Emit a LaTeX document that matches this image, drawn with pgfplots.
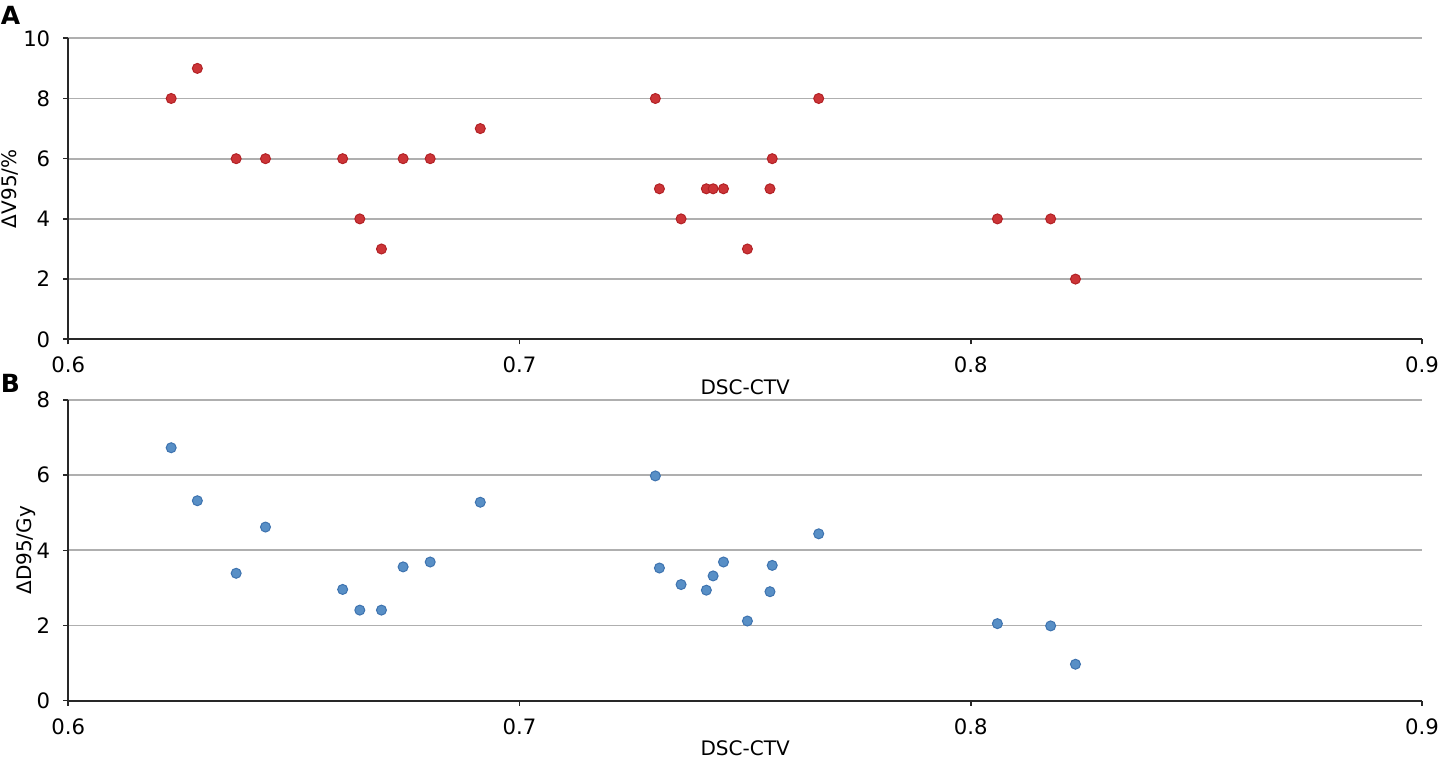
\documentclass[border=0pt]{standalone}
\usepackage{pgfplots}
\pgfplotsset{compat=1.18}
\usepackage{pgfplotstable}
\usepackage{fontspec}
\setmainfont{DejaVu Sans}
\definecolor{redfill}{RGB}{204,52,55}
\definecolor{rededge}{RGB}{178,34,38}
\definecolor{bluefill}{RGB}{88,143,198}
\definecolor{blueedge}{RGB}{62,115,175}
\definecolor{axcol}{RGB}{40,40,40}
\definecolor{gridcol}{RGB}{175,175,175}

\pgfplotstableread{
x      dv  dd
0.6228 8   6.73
0.6286 9   5.32
0.6372 6   3.39
0.6437 6   4.62
0.6608 6   2.96
0.6646 4   2.41
0.6694 3   2.41
0.6742 6   3.56
0.6802 6   3.69
0.6913 7   5.28
0.7301 8   5.98
0.7310 5   3.53
0.7358 4   3.09
0.7414 5   2.94
0.7429 5   3.32
0.7452 5   3.69
0.7505 3   2.12
0.7555 5   2.90
0.7560 6   3.60
0.7663 8   4.44
0.8059 4   2.05
0.8177 4   1.99
0.8232 2   0.97
}\datatable

\pgfplotsset{
  panel/.style={
    scale only axis,
    width=676.85pt,
    height=150.5pt,
    anchor=south west,
    xmin=0.6, xmax=0.9,
    ymin=0,
    xtick={0.6,0.7,0.8,0.9},
    axis x line=bottom,
    axis y line=left,
    axis line style={-, axcol, line width=1pt},
    tick style={axcol, line width=0.8pt},
    tick align=outside,
    major tick length=2.5pt,
    ymajorgrids,
    grid style={gridcol, line width=0.85pt},
    tick label style={font=\fontsize{10.6}{12}\selectfont},
    label style={font=\fontsize{10.6}{12}\selectfont},
    /pgf/number format/assume math mode=true,
    xticklabel style={/pgf/number format/fixed, /pgf/number format/fixed zerofill, /pgf/number format/precision=1},
    xticklabel shift=2.8pt,
    yticklabel shift=3pt,
    xlabel={DSC-CTV},
    every axis x label/.style={at={(axis description cs:0.5,0)}, anchor=center, yshift=-23.75pt},
    clip=false,
  }
}

\begin{document}
\begin{tikzpicture}
\useasboundingbox (0,0) rectangle (719.5pt,379pt);
\begin{axis}[panel,
  at={(34.15pt,209.35pt)},
  ymax=10, ytick={0,2,4,6,8,10},
  ylabel={ΔV95/\%},
  every axis y label/.style={at={(axis description cs:-0.0431,0.5)}, rotate=90, anchor=center},
]
\addplot[only marks, mark=*, mark size=2.5pt, mark options={fill=redfill, draw=rededge, line width=0.5pt}] table[x=x, y=dv] {\datatable};
\end{axis}
\begin{axis}[panel,
  at={(34.15pt,28.65pt)},
  height=150.35pt,
  ymax=8, ytick={0,2,4,6,8},
  ylabel={ΔD95/Gy},
  every axis y label/.style={at={(axis description cs:-0.0312,0.5)}, rotate=90, anchor=center},
]
\addplot[only marks, mark=*, mark size=2.5pt, mark options={fill=bluefill, draw=blueedge, line width=0.5pt}] table[x=x, y=dd] {\datatable};
\end{axis}
\node[font=\bfseries\fontsize{12.5}{14}\selectfont] at (5.25pt,371.25pt) {A};
\node[font=\bfseries\fontsize{12.5}{14}\selectfont] at (5.25pt,187.5pt) {B};
\end{tikzpicture}
\end{document}
